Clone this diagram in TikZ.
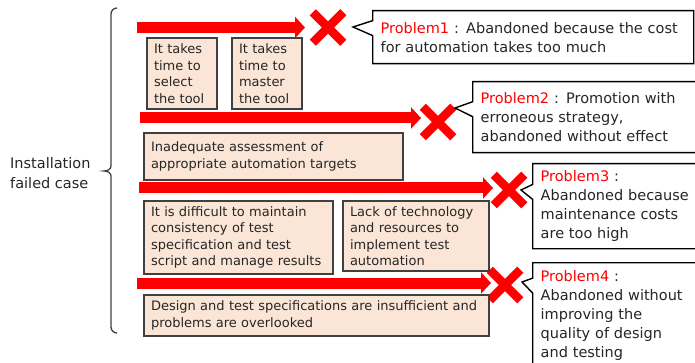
\documentclass[tikz,border=0pt]{standalone}
\usepackage{fontspec}
\setmainfont{DejaVu Sans}
\usetikzlibrary{arrows.meta, shapes.misc, shapes.callouts}
\definecolor{peach}{HTML}{FBE5D6}
\definecolor{boxline}{HTML}{404040}
\definecolor{txt}{HTML}{262626}
\newcommand\causefont{\fontsize{13}{16.5}\selectfont\spaceskip=0.4em minus 0.1em\relax}
\newcommand\problemfont{\fontsize{14.5}{19}\selectfont\spaceskip=0.4em minus 0.1em\relax}

\begin{document}
\begin{tikzpicture}[x=1pt, y=-1pt,
        cause/.style={draw=boxline, fill=peach, line width=1.4pt, align=left, inner xsep=7pt, inner ysep=0pt, text=txt, font=\causefont},
        problem/.style={rectangle callout, draw=black, fill=white, line width=1.4pt, align=left, anchor=north west,
            inner xsep=8pt, inner ysep=0pt, text=txt, callout pointer width=15pt, font=\problemfont},
        bar/.style={red, line width=11pt, -{Triangle[length=10pt, width=21pt]}},
        xmark/.style={cross out, draw=red, line width=8.5pt, minimum size=22pt, inner sep=0pt},
        brace/.style={draw=boxline, line width=1.3pt}]
            \useasboundingbox (0,0) rectangle (695,363);
            \clip (0,0) rectangle (695,363);
            \draw[brace] (117,8) to[out=180, in=90] (111,14) -- (111,166) to[out=-90, in=0] (104,171)
                to[out=0, in=90] (111,176) -- (111,327) to[out=-90, in=180] (117,333);
            \node[anchor=west, align=left, inner sep=0pt, text=txt, font=\fontsize{14.5}{20}\selectfont] (case) at (10,173) {Installation\\failed case};
            \coordinate (s1) at (137,27.5);
            \coordinate (e1) at (305,27.5);
            \coordinate (s2) at (140,118);
            \coordinate (e2) at (421,118);
            \coordinate (s3) at (139,188);
            \coordinate (e3) at (493,188);
            \coordinate (s4) at (137,283);
            \coordinate (e4) at (491,283);
            \draw[bar] (s1) -- (e1);
            \draw[bar] (s2) -- (e2);
            \draw[bar] (s3) -- (e3);
            \draw[bar] (s4) -- (e4);
            \node[xmark] (x1) at (328,27.5) {};
            \node[xmark] (x2) at (438,122) {};
            \node[xmark] (x3) at (509,190) {};
            \node[xmark] (x4) at (505,285) {};
            \node[cause, text width=56pt, minimum height=71pt] (select) at (182,73.5) {It takes\\time to\\select\\the tool};
            \node[cause, text width=56pt, minimum height=71pt] (master) at (267,73.5) {It takes\\time to\\master\\the tool};
            \node[cause, text width=245pt, minimum height=47pt] (assess) at (273.5,156.5) {Inadequate assessment of\\appropriate automation targets};
            \node[cause, text width=175pt, minimum height=73pt] (consist) at (238.5,237.5) {It is difficult to maintain\\consistency of test\\specification and test\\script and manage results};
            \node[cause, text width=132pt, minimum height=70pt] (lack) at (416,236) {Lack of technology\\and resources to\\implement test\\automation};
            \node[cause, text width=331pt, minimum height=41pt] (design) at (316.5,315.5) {Design and test specifications are insufficient and\\problems are overlooked};
            \node[problem, text width=305pt, minimum height=53pt, callout absolute pointer={(353,27)}] (p1) at (372,10)
                {\textcolor{red}{Problem1} : Abandoned because the cost\\for automation takes too much};
            \node[problem, text width=222pt, minimum height=71pt, callout absolute pointer={(455,108)}] (p2) at (472,81)
                {\textcolor{red}{Problem2} : Promotion with\\erroneous strategy,\\abandoned without effect};
            \node[problem, text width=162pt, minimum height=85pt, callout absolute pointer={(521,190)}] (p3) at (532,163)
                {\textcolor{red}{Problem3} :\\Abandoned because\\maintenance costs\\are too high};
            \node[problem, text width=162pt, minimum height=106pt, callout absolute pointer={(522,282)}] (p4) at (532,262)
                {\textcolor{red}{Problem4} :\\Abandoned without\\improving the\\quality of design\\and testing};
        \end{tikzpicture}
\end{document}
